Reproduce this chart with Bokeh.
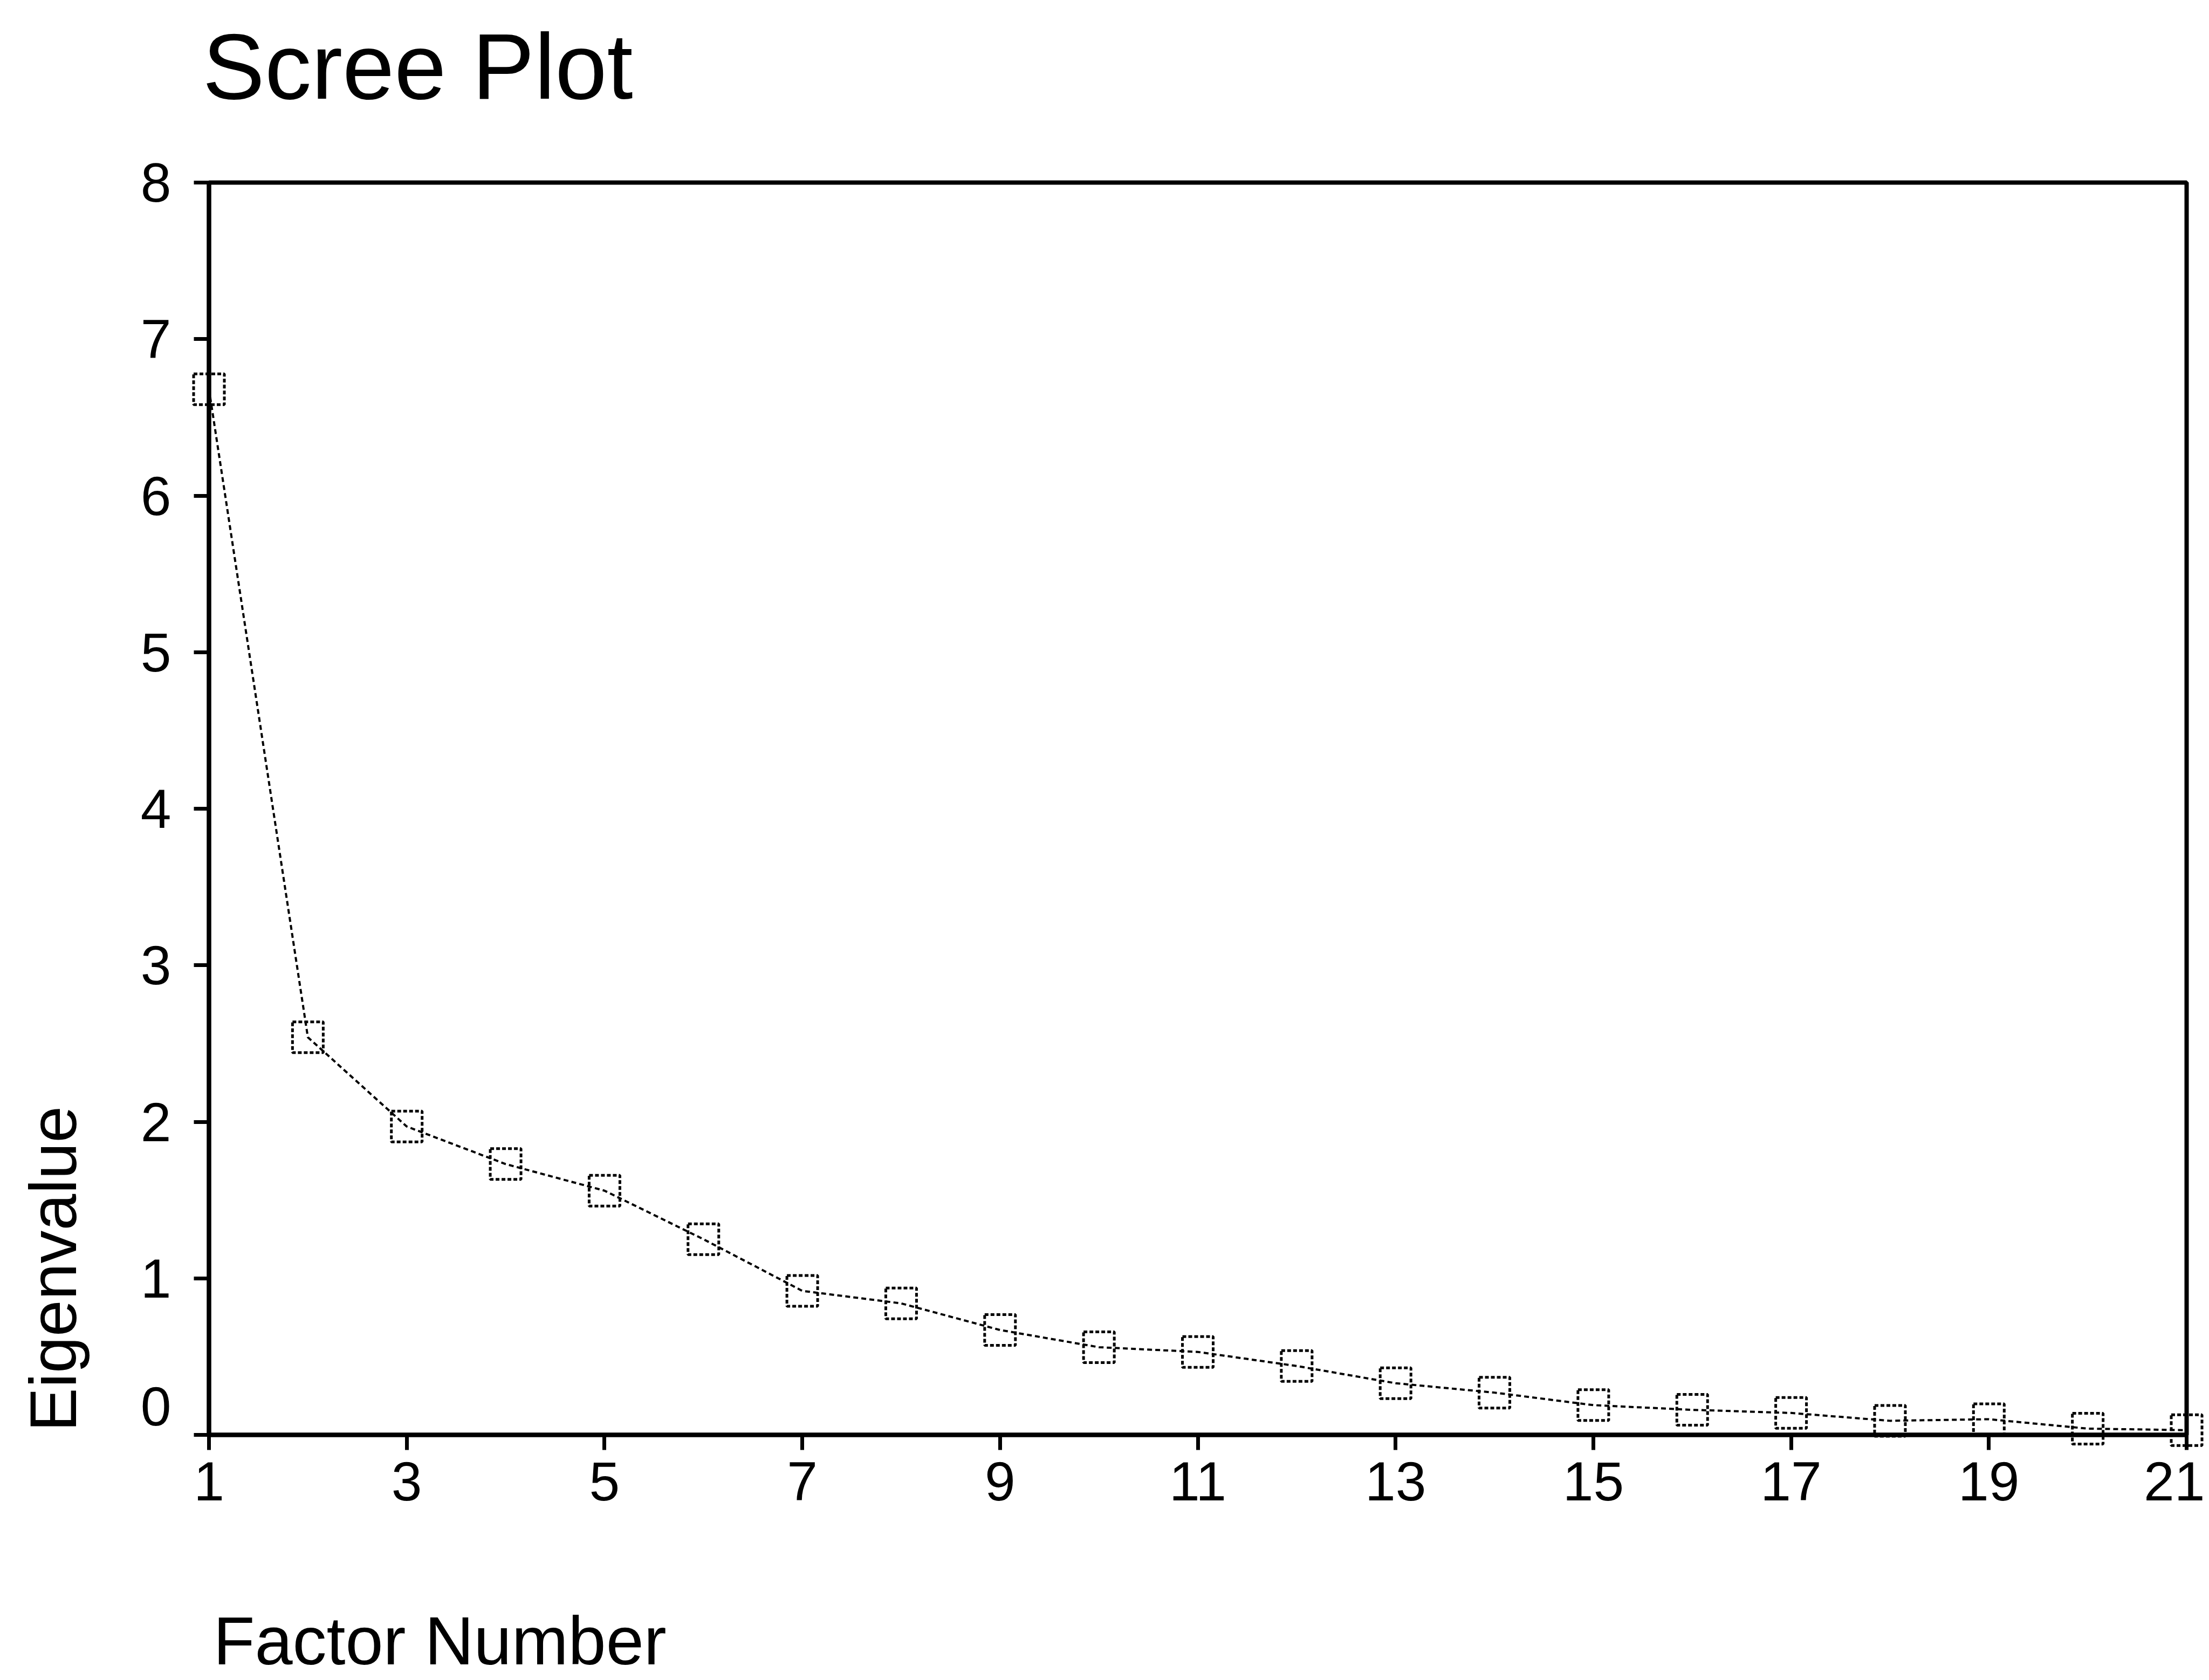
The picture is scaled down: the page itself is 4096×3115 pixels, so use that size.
from math import pi

from bokeh.plotting import figure
from bokeh.models import Range1d, FixedTicker, ColumnDataSource
from bokeh.core.properties import value
from bokeh.embed import file_html
from bokeh.resources import INLINE

# ---- data -------------------------------------------------------------
factors = list(range(1, 22))
eigenvalues = [6.68, 2.54, 1.97, 1.73, 1.56, 1.25, 0.92, 0.84, 0.67, 0.56,
               0.53, 0.44, 0.33, 0.27, 0.19, 0.16, 0.14, 0.09, 0.10, 0.04, 0.03]
x_ticks = [1, 3, 5, 7, 9, 11, 13, 15, 17, 19, 21]
y_ticks = [0, 1, 2, 3, 4, 5, 6, 7, 8]
title_text = "Scree Plot"
x_label = "Factor Number"
y_label = "Eigenvalue"

FONT = "Liberation Sans"
W, H = 4088, 3115

src = ColumnDataSource(dict(x=factors, y=eigenvalues))

p = figure(width=W, height=H, output_backend="svg", toolbar_location=None,
           x_range=Range1d(1, 21), y_range=Range1d(0, 8),
           min_border_left=387, min_border_right=34,
           min_border_top=338, min_border_bottom=455)
p.title.visible = False
p.background_fill_color = "white"
p.border_fill_color = "white"
p.outline_line_color = "black"
p.outline_line_width = 8
p.outline_line_alpha = 1.0
p.xgrid.visible = False
p.ygrid.visible = False

p.xaxis.ticker = FixedTicker(ticks=x_ticks)
p.yaxis.ticker = FixedTicker(ticks=y_ticks)
for ax in (p.xaxis[0], p.yaxis[0]):
    ax.axis_line_width = 8
    ax.axis_line_color = "black"
    ax.major_tick_in = 0
    ax.major_tick_out = 28
    ax.major_tick_line_width = 7
    ax.major_tick_line_color = "black"
    ax.minor_tick_line_color = None
    ax.major_label_text_font = FONT
    ax.major_label_text_font_size = "102px"
    ax.major_label_text_color = "black"
p.xaxis.major_label_standoff = 22
p.yaxis.major_label_standoff = 42
p.yaxis.major_label_overrides = {0: ""}

# ---- series ------------------------------------------------------------
p.line(x="x", y="y", source=src, line_color="black", line_width=4,
       line_dash="9 6")
p.scatter(x="x", y="y", source=src, marker="square", size=57,
          fill_color=None, line_color="black", line_width=5,
          line_dash="7 4", level="overlay")

# ---- texts (anchored to frame corners, offset in screen pixels) ---------
def add_text(x, y, text, size, xo, yo, angle=0.0, align="left",
             baseline="alphabetic"):
    p.text(x=[x], y=[y], text=[text], x_offset=xo, y_offset=yo, angle=angle,
           text_font=value(FONT), text_font_size=value(size),
           text_color="black", text_align=align, text_baseline=baseline,
           level="overlay")

add_text(1, 8, title_text, "173px", -12, -216)
add_text(1, 0, x_label, "126px", 8, 382)
add_text(1, 0, y_label, "122px", -289, -6, angle=pi / 2)
add_text(1, 0, "0", "102px", -70, -53, align="right", baseline="middle")

open("out.html", "w").write(file_html(p, INLINE))
